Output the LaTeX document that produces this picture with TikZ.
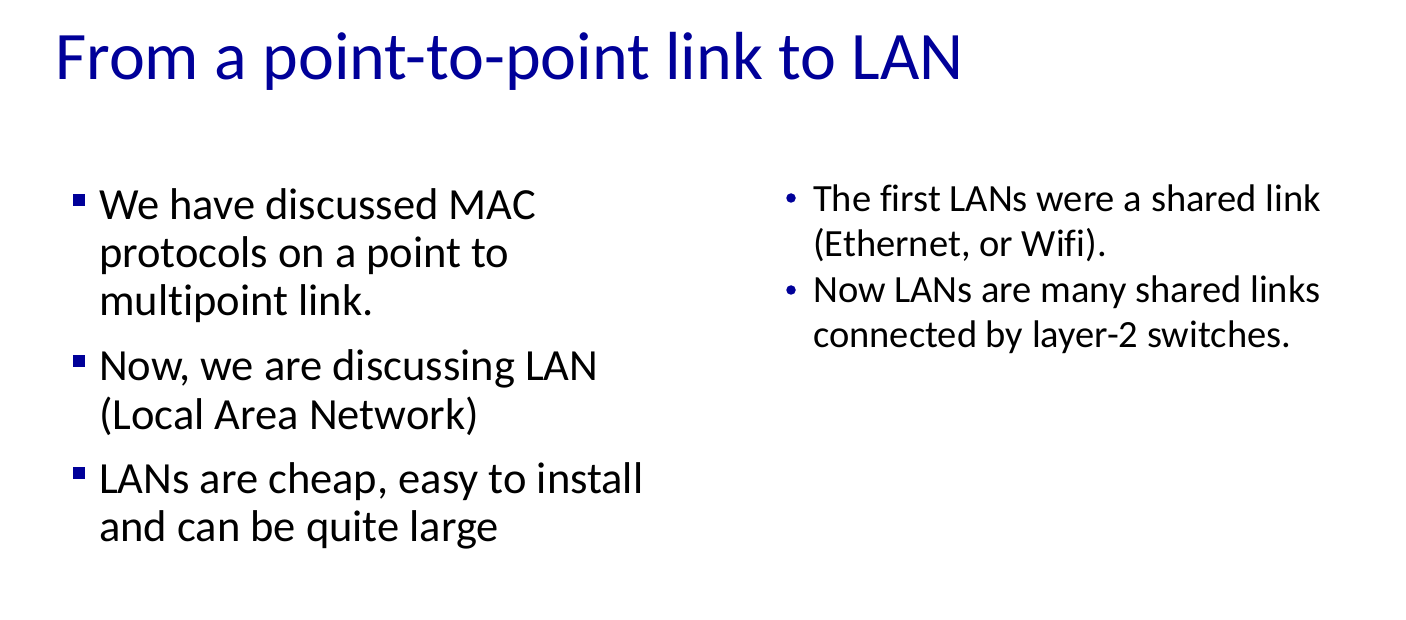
\documentclass[tikz,border=0pt]{standalone}
\usepackage{fontspec}
\setmainfont[Ligatures=NoCommon]{Carlito}
\definecolor{titleblue}{RGB}{0,0,153}
\begin{document}
\begin{tikzpicture}[x=1pt,y=-1pt,
  titletext/.style={anchor=base west,inner sep=0pt,text=titleblue,font=\fontsize{68}{82}\selectfont},
  lefttext/.style={anchor=base west,inner sep=0pt,font=\fontsize{44.5}{48}\selectfont},
  righttext/.style={anchor=base west,inner sep=0pt,font=\fontsize{38.5}{45}\selectfont},
  sqbullet/.style={fill=titleblue,draw=none,minimum size=12.5pt,inner sep=0pt},
  dotbullet/.style={fill=titleblue,draw=none,circle,minimum size=9.5pt,inner sep=0pt}]
\useasboundingbox[fill=white] (0,0) rectangle (1406,620);
\node[titletext] (title) at (55,80) {From a point-to-point link to LAN};
\node[sqbullet] (b1) at (79,200) {};
\node[lefttext] (l1a) at (99,220) {We have discussed MAC};
\node[lefttext] (l1b) at (99,268) {protocols on a point to};
\node[lefttext] (l1c) at (99,316) {multipoint link.};
\node[sqbullet] (b2) at (79,361) {};
\node[lefttext] (l2a) at (99,381) {Now, we are discussing LAN};
\node[lefttext] (l2b) at (99,429) {(Local Area Network)};
\node[sqbullet] (b3) at (79,473) {};
\node[lefttext] (l3a) at (99,493) {LANs are cheap, easy to install};
\node[lefttext] (l3b) at (99,541) {and can be quite large};
\node[dotbullet] (r1b) at (791,198) {};
\node[righttext] (r1a) at (813,212) {The first LANs were a shared link};
\node[righttext] (r1b2) at (813,257) {(Ethernet, or Wifi).};
\node[dotbullet] (r2b) at (791,290) {};
\node[righttext] (r2a) at (813,303) {Now LANs are many shared links};
\node[righttext] (r2b2) at (813,348) {connected by layer-2 switches.};
\end{tikzpicture}
\end{document}
